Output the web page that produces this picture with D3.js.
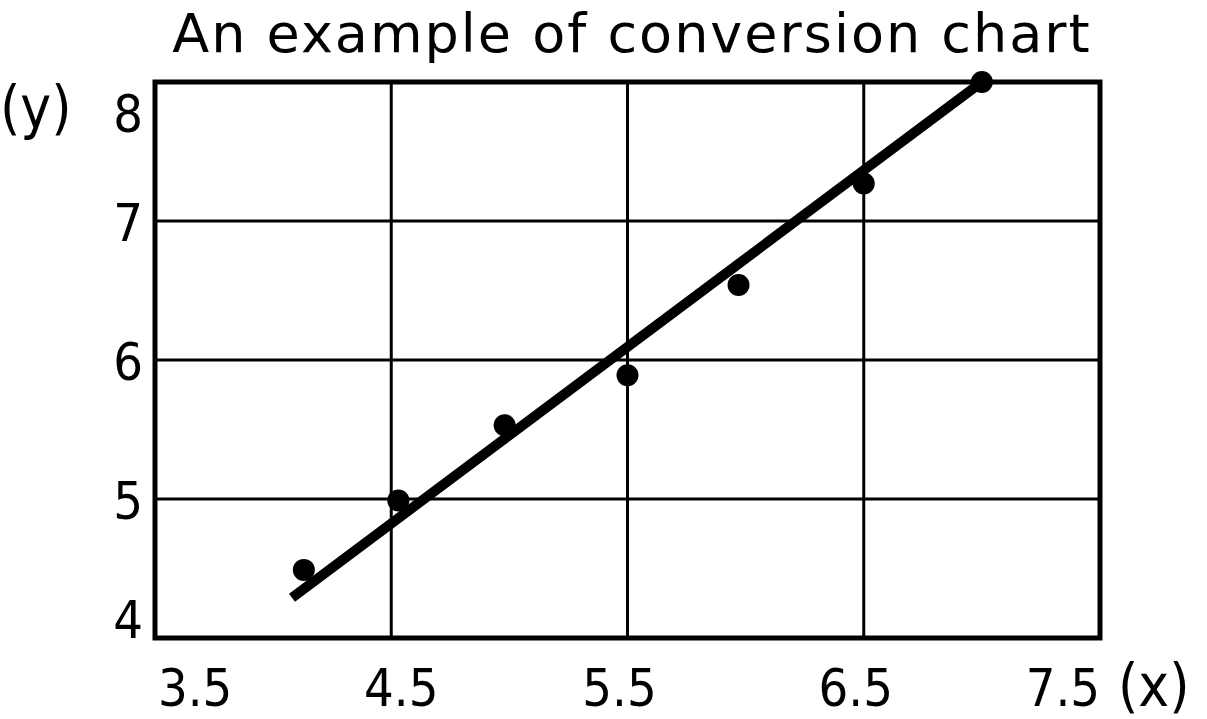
<!DOCTYPE html>
<html><head><meta charset="utf-8">
<script src="https://cdn.jsdelivr.net/npm/d3@7"></script>
<style>body{margin:0;background:#fff}</style>
</head><body>
<svg id="chart" width="1207" height="719"></svg>
<script>
var xData = [4.13, 4.53, 4.98, 5.5, 5.97, 6.5, 7.0];
var yData = [4.49, 4.99, 5.53, 5.89, 6.54, 7.27, 8.0];
var fitX = [4.08, 7.0];
var fitY = [4.29, 8.0];
var xTicks = [3.5, 4.5, 5.5, 6.5, 7.5];
var yTicks = [4, 5, 6, 7, 8];

var svg = d3.select('#chart');
var font = '"Liberation Sans Narrow","DejaVu Sans Condensed",sans-serif';
var pad = {left:155, right:1100, top:82, bottom:638};
var x = d3.scaleLinear().domain([3.5,7.5]).range([pad.left,pad.right]);
var y = d3.scaleLinear().domain([4,8]).range([pad.bottom,pad.top]);

// grid
svg.append('g').selectAll('line').data(xTicks.slice(1,-1)).enter().append('line')
  .attr('x1',function(d){return x(d);}).attr('x2',function(d){return x(d);})
  .attr('y1',pad.top).attr('y2',pad.bottom).attr('stroke','#000').attr('stroke-width',3);
svg.append('g').selectAll('line').data(yTicks.slice(1,-1)).enter().append('line')
  .attr('y1',function(d){return y(d);}).attr('y2',function(d){return y(d);})
  .attr('x1',pad.left).attr('x2',pad.right).attr('stroke','#000').attr('stroke-width',3);
svg.append('rect').attr('x',pad.left).attr('y',pad.top)
  .attr('width',pad.right-pad.left).attr('height',pad.bottom-pad.top)
  .attr('fill','none').attr('stroke','#000').attr('stroke-width',5);

// fit line
svg.append('line').attr('x1',x(fitX[0])).attr('y1',y(fitY[0]))
  .attr('x2',x(fitX[1])).attr('y2',y(fitY[1]))
  .attr('stroke','#000').attr('stroke-width',10);

// points
svg.append('g').selectAll('circle').data(xData).enter().append('circle')
  .attr('cx',function(d){return x(d);})
  .attr('cy',function(d,i){return y(yData[i]);})
  .attr('r',11).attr('fill','#000');

// tick labels
svg.append('g').selectAll('text').data(xTicks).enter().append('text')
  .attr('x',function(d,i){return i===0 ? x(d)+3 : (i===xTicks.length-1 ? x(d) : x(d)+(i===1?10:-8));})
  .attr('y',706)
  .attr('text-anchor',function(d,i){return i===0?'start':(i===xTicks.length-1?'end':'middle');})
  .attr('font-family',font).attr('font-size',52).text(function(d){return d.toFixed(1);});
svg.append('g').selectAll('text').data(yTicks).enter().append('text')
  .attr('x',143)
  .attr('y',function(d){return Math.min(Math.max(y(d)+20,132),638);})
  .attr('text-anchor','end')
  .attr('font-family',font).attr('font-size',52).text(function(d){return d;});

svg.append('text').attr('x',0).attr('y',128).attr('font-family',font)
  .attr('font-size',58).text('(y)');
svg.append('text').attr('x',1118).attr('y',706).attr('font-family',font)
  .attr('font-size',58).text('(x)');
svg.append('text').attr('x',632).attr('y',52).attr('text-anchor','middle')
  .attr('font-family','"DejaVu Sans",sans-serif').attr('font-size',54)
  .attr('letter-spacing',2).text('An example of conversion chart');
</script>
</body></html>
